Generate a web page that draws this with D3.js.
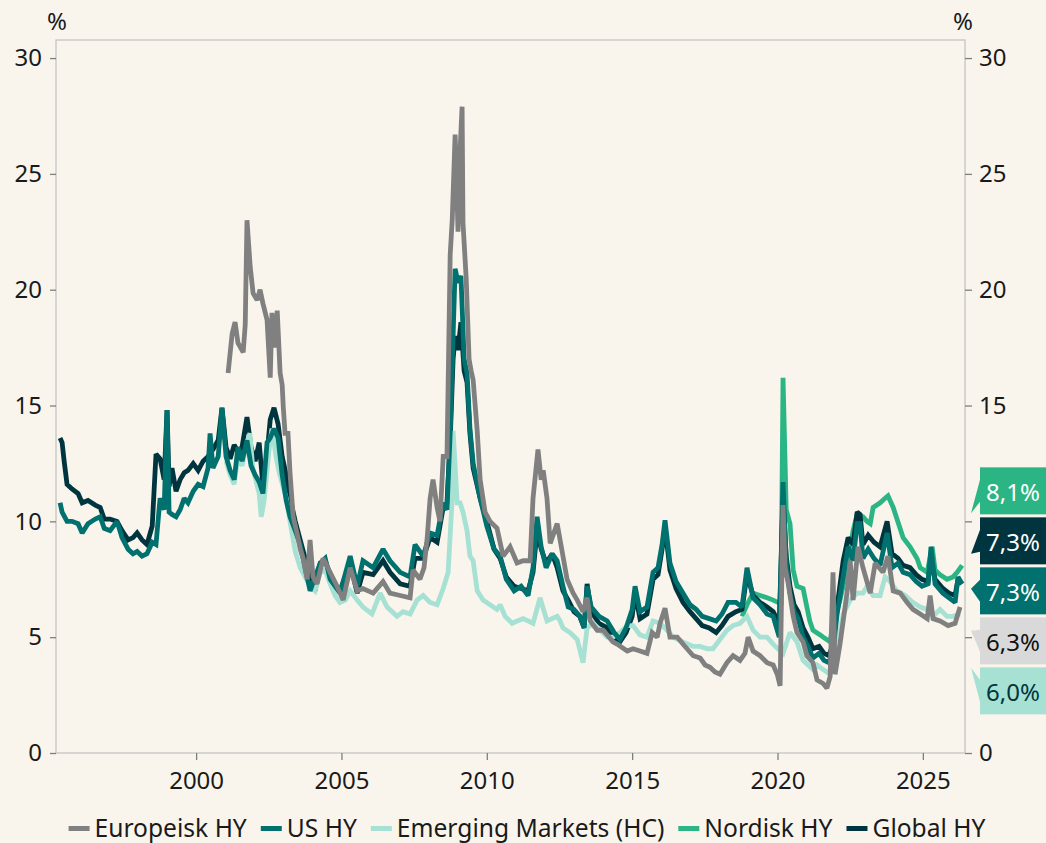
<!DOCTYPE html>
<html><head><meta charset="utf-8">
<script src="https://cdn.jsdelivr.net/npm/d3@7"></script>
<style>
body{margin:0;background:#F9F5EC;}
svg{display:block;font-family:'Noto Sans',sans-serif;}
</style>
</head><body>
<svg id="chart" width="1046" height="843"></svg>
<script>
// ---- data: [decimal year, yield %] ----
const europeiskHY = [[2001.10,16.4],[2001.24,18.1],[2001.34,18.6],[2001.44,17.7],[2001.62,17.3],[2001.69,18.5],[2001.75,23.0],[2001.86,21.0],[2001.96,19.85],[2002.10,19.55],[2002.20,20.0],[2002.30,19.4],[2002.44,18.7],[2002.55,16.2],[2002.61,19.0],[2002.72,17.5],[2002.79,19.1],[2002.89,16.4],[2002.96,15.9],[2003.00,14.9],[2003.06,13.8],[2003.16,13.8],[2003.23,12.1],[2003.34,10.2],[2003.47,9.5],[2003.58,8.8],[2003.68,8.4],[2003.82,7.5],[2003.92,9.2],[2004.02,7.6],[2004.16,7.3],[2004.37,8.4],[2004.61,7.8],[2004.85,7.2],[2005.06,6.6],[2005.30,8.0],[2005.54,7.0],[2005.74,7.1],[2006.09,6.9],[2006.43,7.4],[2006.67,6.9],[2007.02,6.8],[2007.36,6.7],[2007.46,7.9],[2007.70,7.5],[2007.84,8.0],[2007.95,9.3],[2008.05,11.0],[2008.15,11.8],[2008.29,10.6],[2008.39,10.0],[2008.50,12.8],[2008.63,12.8],[2008.74,21.5],[2008.81,23.0],[2008.91,26.7],[2009.01,22.5],[2009.08,26.0],[2009.15,27.9],[2009.18,22.9],[2009.29,20.5],[2009.39,17.0],[2009.46,16.5],[2009.53,16.1],[2009.67,13.9],[2009.77,11.8],[2009.94,10.4],[2010.11,10.0],[2010.35,9.7],[2010.56,8.5],[2010.80,8.9],[2011.04,8.2],[2011.25,8.3],[2011.49,8.3],[2011.59,11.0],[2011.76,13.1],[2011.87,11.8],[2011.94,12.2],[2012.07,11.0],[2012.18,9.05],[2012.42,9.9],[2012.62,8.5],[2012.76,7.5],[2012.97,6.9],[2013.11,6.6],[2013.31,6.1],[2013.45,6.7],[2013.56,5.7],[2013.80,5.3],[2014.00,5.3],[2014.34,4.8],[2014.48,4.7],[2014.83,4.4],[2015.03,4.5],[2015.27,4.4],[2015.51,4.3],[2015.69,5.2],[2015.86,5.0],[2015.96,5.6],[2016.13,6.25],[2016.30,5.0],[2016.55,5.0],[2016.82,4.6],[2017.10,4.2],[2017.34,4.1],[2017.51,3.8],[2017.68,3.7],[2017.85,3.5],[2018.02,3.4],[2018.26,3.9],[2018.47,4.2],[2018.71,4.0],[2018.88,4.3],[2018.99,5.0],[2019.16,4.4],[2019.40,4.2],[2019.64,3.9],[2019.85,3.8],[2019.99,3.4],[2020.09,2.9],[2020.19,10.7],[2020.26,8.0],[2020.37,7.3],[2020.54,5.9],[2020.67,5.2],[2020.88,4.8],[2021.01,4.2],[2021.22,3.9],[2021.36,3.15],[2021.57,3.0],[2021.70,2.8],[2021.81,3.3],[2021.91,7.8],[2021.98,3.4],[2022.15,4.7],[2022.39,6.9],[2022.50,8.3],[2022.60,6.6],[2022.77,8.9],[2022.94,8.0],[2023.19,6.9],[2023.36,8.2],[2023.63,7.8],[2023.80,8.5],[2023.98,7.0],[2024.22,6.9],[2024.46,6.5],[2024.66,6.2],[2024.91,6.0],[2025.15,5.8],[2025.25,6.8],[2025.35,5.8],[2025.59,5.7],[2025.87,5.5],[2026.11,5.6],[2026.28,6.3]];

const usHY = [[1995.32,10.8],[1995.39,10.4],[1995.56,10.0],[1995.73,10.0],[1995.94,9.9],[1996.08,9.5],[1996.28,9.9],[1996.53,10.1],[1996.70,10.2],[1996.84,9.7],[1997.04,9.6],[1997.28,10.0],[1997.45,9.3],[1997.66,8.8],[1997.83,8.6],[1997.97,8.7],[1998.14,8.5],[1998.31,8.6],[1998.49,9.1],[1998.62,9.0],[1998.76,11.0],[1998.90,10.5],[1999.00,14.8],[1999.07,10.4],[1999.17,10.3],[1999.31,10.2],[1999.45,10.5],[1999.59,11.0],[1999.72,10.8],[1999.90,11.3],[2000.07,11.6],[2000.24,11.5],[2000.41,12.3],[2000.48,13.8],[2000.58,12.3],[2000.76,12.8],[2000.89,14.9],[2001.03,12.8],[2001.17,12.2],[2001.31,11.8],[2001.44,13.2],[2001.58,12.6],[2001.75,13.5],[2001.89,12.4],[2002.03,12.0],[2002.17,11.7],[2002.30,11.2],[2002.44,13.4],[2002.55,13.6],[2002.68,14.0],[2002.82,13.6],[2002.96,12.0],[2003.10,10.9],[2003.23,10.2],[2003.41,9.6],[2003.58,9.0],[2003.75,8.0],[2003.92,7.0],[2004.09,7.6],[2004.27,8.2],[2004.44,8.4],[2004.61,7.5],[2004.78,7.2],[2004.95,6.9],[2005.30,8.5],[2005.54,7.2],[2005.74,8.3],[2006.09,8.0],[2006.43,8.8],[2006.67,8.3],[2007.02,7.8],[2007.36,7.6],[2007.53,9.0],[2007.81,8.5],[2008.05,9.5],[2008.29,9.4],[2008.50,10.8],[2008.63,10.5],[2008.74,13.8],[2008.84,18.0],[2008.91,20.9],[2009.01,20.3],[2009.11,20.6],[2009.22,17.0],[2009.32,16.4],[2009.42,14.0],[2009.53,12.5],[2009.77,11.0],[2010.00,9.8],[2010.25,8.8],[2010.46,8.5],[2010.67,7.5],[2010.94,7.0],[2011.18,7.2],[2011.42,6.8],[2011.59,8.0],[2011.73,10.2],[2011.87,8.9],[2012.04,8.0],[2012.25,8.6],[2012.42,8.3],[2012.62,7.2],[2012.80,6.3],[2013.00,6.2],[2013.20,5.9],[2013.35,5.4],[2013.45,7.2],[2013.59,6.3],[2013.86,5.9],[2014.14,5.7],[2014.38,5.2],[2014.58,4.9],[2014.79,5.4],[2015.00,6.2],[2015.10,7.2],[2015.27,6.1],[2015.51,6.3],[2015.72,7.8],[2015.89,8.0],[2016.03,9.0],[2016.13,10.05],[2016.30,8.2],[2016.51,7.4],[2016.75,6.9],[2016.99,6.4],[2017.20,6.2],[2017.41,5.9],[2017.65,5.8],[2017.89,5.7],[2018.09,6.0],[2018.30,6.5],[2018.57,6.5],[2018.78,6.3],[2018.95,8.0],[2019.16,6.7],[2019.40,6.4],[2019.64,6.0],[2019.85,5.9],[2020.06,5.0],[2020.19,11.7],[2020.30,8.2],[2020.43,6.9],[2020.57,6.1],[2020.71,5.8],[2020.88,5.0],[2021.05,4.6],[2021.22,4.1],[2021.43,4.3],[2021.60,4.0],[2021.77,3.9],[2021.91,4.4],[2022.05,6.0],[2022.26,7.6],[2022.43,8.9],[2022.60,8.3],[2022.74,9.9],[2022.84,9.9],[2022.94,8.4],[2023.12,8.8],[2023.32,8.4],[2023.53,8.1],[2023.77,9.5],[2023.94,8.0],[2024.15,8.2],[2024.32,7.8],[2024.56,7.7],[2024.77,7.4],[2024.97,7.2],[2025.18,7.3],[2025.28,8.9],[2025.42,7.3],[2025.69,6.9],[2025.90,6.7],[2026.11,6.5],[2026.21,7.6],[2026.35,7.3]];

const emergingHC = [[2001.03,12.6],[2001.17,12.0],[2001.31,11.6],[2001.44,12.8],[2001.58,12.4],[2001.75,13.4],[2001.85,13.8],[2001.95,12.3],[2002.17,11.2],[2002.24,10.2],[2002.34,10.9],[2002.51,13.1],[2002.61,14.0],[2002.75,12.8],[2002.86,12.1],[2003.10,11.0],[2003.23,10.0],[2003.41,8.7],[2003.58,8.0],[2003.92,7.2],[2004.09,7.0],[2004.27,7.8],[2004.44,7.9],[2004.61,7.3],[2004.78,6.8],[2004.95,6.5],[2005.13,6.6],[2005.30,7.0],[2005.54,6.6],[2005.74,6.3],[2006.05,6.0],[2006.33,6.9],[2006.57,6.3],[2006.91,5.9],[2007.12,6.1],[2007.36,6.0],[2007.60,6.6],[2007.81,6.8],[2008.05,6.5],[2008.29,6.4],[2008.50,7.1],[2008.67,7.8],[2008.81,11.0],[2008.84,13.9],[2008.91,12.4],[2008.98,10.8],[2009.08,10.8],[2009.18,10.4],[2009.32,9.6],[2009.42,8.5],[2009.53,8.3],[2009.67,7.0],[2009.87,6.6],[2010.11,6.4],[2010.35,6.2],[2010.46,6.4],[2010.63,5.9],[2010.87,5.6],[2011.04,5.7],[2011.25,5.8],[2011.59,5.6],[2011.83,6.7],[2012.07,5.7],[2012.42,5.9],[2012.52,5.7],[2012.62,5.4],[2012.86,5.2],[2013.11,4.9],[2013.31,3.9],[2013.45,5.4],[2013.66,5.6],[2013.90,5.3],[2014.14,5.0],[2014.34,5.0],[2014.58,5.2],[2014.83,5.5],[2015.03,5.5],[2015.27,5.1],[2015.51,5.0],[2015.72,5.7],[2015.96,5.6],[2016.20,5.3],[2016.41,5.0],[2016.75,4.8],[2017.10,4.6],[2017.34,4.6],[2017.58,4.5],[2017.78,4.5],[2018.02,4.9],[2018.26,5.3],[2018.47,5.5],[2018.71,5.6],[2018.95,5.9],[2019.16,5.3],[2019.40,5.0],[2019.64,5.0],[2019.85,4.7],[2020.09,4.4],[2020.19,4.3],[2020.43,5.2],[2020.67,4.8],[2020.88,4.0],[2021.22,3.6],[2021.36,3.8],[2021.57,3.6],[2021.81,3.4],[2022.05,4.5],[2022.26,6.0],[2022.50,6.6],[2022.74,6.9],[2022.94,6.9],[2023.08,7.2],[2023.29,6.8],[2023.53,6.8],[2023.70,7.6],[2023.87,7.4],[2024.11,7.0],[2024.39,6.8],[2024.66,6.5],[2024.91,6.3],[2025.15,6.2],[2025.35,5.9],[2025.59,6.2],[2025.83,5.9],[2026.04,5.9],[2026.28,6.0]];

const nordiskHY = [[2018.78,5.9],[2018.95,6.4],[2019.16,6.9],[2019.40,6.8],[2019.64,6.7],[2019.85,6.6],[2020.02,6.5],[2020.12,6.4],[2020.19,16.2],[2020.30,10.5],[2020.43,9.9],[2020.54,7.9],[2020.67,7.2],[2020.88,7.1],[2021.01,6.3],[2021.11,5.7],[2021.22,5.3],[2021.47,5.1],[2021.57,5.0],[2021.81,4.8],[2021.91,5.6],[2022.15,6.6],[2022.39,8.0],[2022.60,9.6],[2022.74,10.3],[2022.94,10.2],[2023.08,10.0],[2023.19,9.9],[2023.29,10.6],[2023.53,10.8],[2023.70,11.0],[2023.80,11.1],[2023.98,10.6],[2024.11,10.1],[2024.32,9.3],[2024.56,8.9],[2024.80,8.4],[2024.91,8.0],[2025.15,7.8],[2025.32,8.9],[2025.42,7.9],[2025.59,7.7],[2025.83,7.5],[2026.04,7.6],[2026.18,7.8],[2026.35,8.1]];

const globalHY = [[1995.32,13.6],[1995.39,13.4],[1995.46,12.6],[1995.56,11.6],[1995.73,11.4],[1995.94,11.2],[1996.08,10.8],[1996.28,10.9],[1996.53,10.7],[1996.70,10.6],[1996.84,10.1],[1997.04,10.1],[1997.28,10.0],[1997.45,9.6],[1997.66,9.2],[1997.83,9.3],[1997.97,9.5],[1998.14,9.2],[1998.31,9.0],[1998.49,9.8],[1998.62,12.9],[1998.76,12.7],[1998.90,11.8],[1999.00,14.8],[1999.07,11.5],[1999.17,12.3],[1999.31,11.3],[1999.45,11.8],[1999.59,12.1],[1999.72,12.2],[1999.90,12.5],[2000.07,12.2],[2000.24,12.6],[2000.41,12.8],[2000.58,13.1],[2000.76,13.5],[2000.89,14.9],[2001.03,13.2],[2001.17,12.7],[2001.31,13.3],[2001.44,13.0],[2001.58,13.2],[2001.75,14.5],[2001.89,13.2],[2002.03,12.6],[2002.17,13.4],[2002.30,11.5],[2002.44,12.9],[2002.55,14.4],[2002.68,14.9],[2002.82,14.2],[2002.96,12.8],[2003.10,12.0],[2003.23,11.0],[2003.41,10.0],[2003.58,9.2],[2003.75,8.4],[2003.92,7.8],[2004.09,7.0],[2004.27,8.2],[2004.44,8.3],[2004.61,7.7],[2004.78,7.2],[2004.95,7.0],[2005.30,8.2],[2005.54,6.9],[2005.74,7.8],[2006.09,7.7],[2006.43,8.3],[2006.67,7.8],[2007.02,7.3],[2007.36,7.2],[2007.53,8.4],[2007.81,8.4],[2008.05,9.3],[2008.29,9.1],[2008.50,10.6],[2008.63,10.8],[2008.74,13.5],[2008.84,17.0],[2008.91,18.0],[2009.01,17.4],[2009.11,18.6],[2009.22,16.5],[2009.32,16.0],[2009.42,13.8],[2009.53,12.3],[2009.77,11.0],[2010.00,10.0],[2010.25,8.8],[2010.46,8.4],[2010.67,7.6],[2010.94,7.2],[2011.18,7.1],[2011.42,7.0],[2011.59,7.8],[2011.73,9.6],[2011.87,8.8],[2012.04,8.2],[2012.25,8.6],[2012.42,8.0],[2012.62,7.0],[2012.80,6.6],[2013.00,6.1],[2013.20,5.9],[2013.35,5.4],[2013.45,7.3],[2013.59,6.1],[2013.86,5.6],[2014.14,5.4],[2014.38,5.0],[2014.58,4.8],[2014.79,5.2],[2015.00,5.9],[2015.10,6.9],[2015.27,5.8],[2015.51,6.0],[2015.72,7.5],[2015.89,7.7],[2016.03,8.8],[2016.13,9.8],[2016.30,7.9],[2016.51,7.1],[2016.75,6.5],[2016.99,6.1],[2017.20,5.8],[2017.41,5.5],[2017.65,5.4],[2017.89,5.2],[2018.09,5.5],[2018.30,5.9],[2018.57,6.1],[2018.78,6.2],[2018.95,7.7],[2019.16,6.8],[2019.40,6.5],[2019.64,6.3],[2019.85,6.1],[2020.06,5.6],[2020.19,11.0],[2020.30,8.5],[2020.43,7.2],[2020.57,6.4],[2020.71,6.1],[2020.88,5.4],[2021.05,5.0],[2021.22,4.5],[2021.43,4.6],[2021.60,4.3],[2021.77,4.2],[2021.91,4.7],[2022.05,6.3],[2022.26,8.3],[2022.43,9.3],[2022.60,9.0],[2022.74,10.4],[2022.84,10.3],[2022.94,9.0],[2023.12,9.4],[2023.32,9.1],[2023.53,8.9],[2023.77,10.0],[2023.94,8.6],[2024.15,8.4],[2024.32,8.1],[2024.56,8.0],[2024.77,7.7],[2024.97,7.5],[2025.18,7.4],[2025.28,8.4],[2025.42,7.5],[2025.69,7.1],[2025.90,6.9],[2026.11,6.8],[2026.21,7.5],[2026.35,7.3]];

const seriesNames = ["Europeisk HY", "US HY", "Emerging Markets (HC)", "Nordisk HY", "Global HY"];
const seriesData = [europeiskHY, usHY, emergingHC, nordiskHY, globalHY];
const lineColors = ["#808080", "#00716E", "#A6E1D4", "#2BB584", "#00353F"];
const boxColors = ["#D9D9D9", "#00716E", "#A6E1D4", "#2BB584", "#00353F"];
const boxText = ["#111111", "#FFFFFF", "#00353F", "#FFFFFF", "#FFFFFF"];
const drawOrder = [3, 4, 2, 1, 0];
const xTicks = [2000, 2005, 2010, 2015, 2020, 2025];
const yTicks = [0, 5, 10, 15, 20, 25, 30];

// ---- layout ----
const L = 56, R = 965, T = 40, B = 753;
const svg = d3.select("#chart");
svg.append("rect").attr("width", 1046).attr("height", 843).attr("fill", "#F9F5EC");

const x = d3.scaleLinear().domain([1995.18, 2026.45]).range([L, R]);
const y = d3.scaleLinear().domain([0, 30.78]).range([B, T]);

const textColor = "#1a1a1a";
const fontSize = "24px";

// end-value label geometry (computed first so covered right tick labels can be hidden)
const ends = seriesData.map((s, i) => ({ i, v: s[s.length - 1][1] }));
ends.sort((a, b) => b.v - a.v || (a.i === 4 ? -1 : 1));
const boxH = 47, gap = 3, boxX = 980;
const meanY = d3.mean(ends, d => y(d.v));
const totalH = ends.length * boxH + (ends.length - 1) * gap;
const top0 = meanY - totalH / 2;
const stackTop = top0, stackBottom = top0 + totalH;

// frame
svg.append("rect").attr("x", L).attr("y", T).attr("width", R - L).attr("height", B - T)
  .attr("fill", "none").attr("stroke", "#C4C4C4").attr("stroke-width", 1.3);

function styleAxis(g) {
  g.select(".domain").remove();
  g.selectAll(".tick line").attr("stroke", "#7f7f7f").attr("stroke-width", 1.3);
  g.selectAll(".tick text").attr("fill", textColor).style("font-size", fontSize)
    .style("font-family", "'Noto Sans',sans-serif");
}

svg.append("g").attr("transform", `translate(${L},0)`)
  .call(d3.axisLeft(y).tickValues(yTicks).tickSize(6).tickPadding(8).tickFormat(d3.format("d")))
  .call(styleAxis);
const rightAxis = svg.append("g").attr("transform", `translate(${R},0)`)
  .call(d3.axisRight(y).tickValues(yTicks).tickSize(7).tickPadding(7).tickFormat(d3.format("d")))
  .call(styleAxis);
// tick labels lying behind the value boxes are covered in the original
rightAxis.selectAll(".tick").filter(d => y(d) > stackTop - 10 && y(d) < stackBottom + 10)
  .select("text").remove();
svg.append("g").attr("transform", `translate(0,${B})`)
  .call(d3.axisBottom(x).tickValues(xTicks).tickSize(7).tickPadding(12).tickFormat(d3.format("d")))
  .call(styleAxis);

// unit labels
svg.append("text").attr("x", 57).attr("y", 30).attr("text-anchor", "middle")
  .attr("fill", textColor).style("font-size", fontSize).text("%");
svg.append("text").attr("x", 963).attr("y", 30).attr("text-anchor", "middle")
  .attr("fill", textColor).style("font-size", fontSize).text("%");

// lines
svg.append("clipPath").attr("id", "plotclip").append("rect")
  .attr("x", L).attr("y", T).attr("width", R - L).attr("height", B - T);
const line = d3.line().x(d => x(d[0])).y(d => y(d[1]));
const lg = svg.append("g").attr("clip-path", "url(#plotclip)");
drawOrder.forEach(i => {
  lg.append("path").datum(seriesData[i]).attr("d", line)
    .attr("fill", "none").attr("stroke", lineColors[i]).attr("stroke-width", 4.8)
    .attr("stroke-linejoin", "miter").attr("stroke-miterlimit", 2);
});

// end-value labels
const fmt = v => d3.format(".1f")(v).replace(".", ",") + "%";
ends.forEach((d, k) => {
  const by = top0 + k * (boxH + gap);
  const cy = by + boxH / 2;
  const tipY = cy + 0.3 * (y(d.v) - cy);
  svg.append("path")
    .attr("d", `M${boxX},${cy - 11}L${boxX},${cy + 11}L${971},${tipY}Z`)
    .attr("fill", boxColors[d.i]);
  svg.append("rect").attr("x", boxX).attr("y", by).attr("width", 70).attr("height", boxH)
    .attr("fill", boxColors[d.i]);
  svg.append("text").attr("x", 1013).attr("y", by + 34).attr("text-anchor", "middle")
    .attr("fill", boxText[d.i]).style("font-size", fontSize).text(fmt(d.v));
});

// legend
const leg = svg.append("g");
let cx = 0;
seriesNames.forEach((n, i) => {
  const g = leg.append("g").attr("transform", `translate(${cx},0)`);
  g.append("rect").attr("x", 0).attr("y", 826).attr("width", 21).attr("height", 5).attr("fill", lineColors[i]);
  const t = g.append("text").attr("x", 26).attr("y", 837).attr("fill", textColor)
    .style("font-size", "24.6px").text(n);
  cx += 26 + t.node().getComputedTextLength() + 14;
});
const legW = cx - 14;
leg.attr("transform", `translate(${527 - legW / 2},0)`);
</script>
</body></html>
